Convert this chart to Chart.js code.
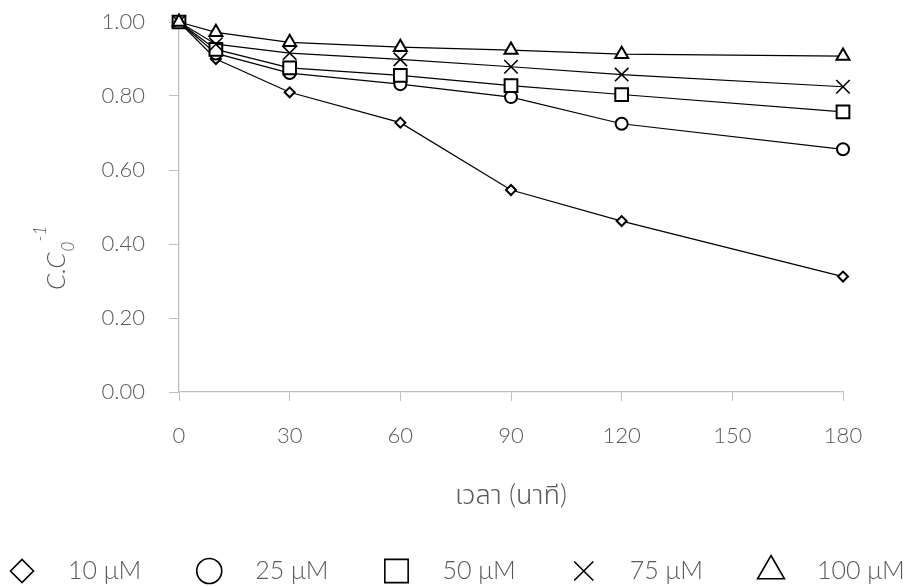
<!DOCTYPE html>
<html>
<head>
<meta charset="utf-8">
<script src="https://cdn.jsdelivr.net/npm/chart.js@4/dist/chart.umd.min.js"></script>
<style>
  html, body { margin: 0; padding: 0; background: #ffffff; }
  #wrap { width: 905px; height: 586px; }
</style>
</head>
<body>
<div id="wrap"><canvas id="decayChart" width="905" height="586"></canvas></div>
<script>
// time points (minutes)
const times = [0, 10, 30, 60, 90, 120, 180];

// normalised concentration C/C0 for each starting concentration
const conc10 = [1.00, 0.900, 0.810, 0.728, 0.546, 0.462, 0.312];
const conc25 = [1.00, 0.915, 0.862, 0.832, 0.797, 0.725, 0.656];
const conc50 = [1.00, 0.926, 0.876, 0.856, 0.828, 0.804, 0.757];
const conc75 = [1.00, 0.940, 0.916, 0.899, 0.879, 0.858, 0.825];
const conc100 = [1.00, 0.972, 0.945, 0.932, 0.924, 0.913, 0.908];

const seriesLabels = ['10 μM', '25 μM', '50 μM', '75 μM', '100 μM'];
const seriesStyles = ['rectRot', 'circle', 'rect', 'crossRot', 'triangle'];
const pointSizes = [5, 6, 9, 9.5, 7.5];
const legendSizes = [11.5, 12.5, 16.5, 13.5, 15.5];

const textFont = 'Lato, "Open Sans", "Noto Sans Thai", "Noto Sans", sans-serif';
const grey = '#595959';
const axisGrey = '#bfbfbf';

function makeDataset(i, values) {
    return {
        label: seriesLabels[i],
        data: times.map((t, j) => ({ x: t, y: values[j] })),
        borderColor: '#000000',
        borderWidth: 1.2,
        pointStyle: seriesStyles[i],
        pointRadius: pointSizes[i],
        pointBorderWidth: seriesStyles[i] === 'crossRot' ? 1.6 : 2,
        pointBorderColor: '#000000',
        pointBackgroundColor: '#ffffff',
        tension: 0,
        clip: false,
        order: 5 - i
    };
}

// rotated y axis title with subscript / superscript
const yTitlePlugin = {
    id: 'yTitle',
    afterDraw(chart) {
        const ctx = chart.ctx;
        const area = chart.chartArea;
        ctx.save();
        ctx.translate(area.left - 114, area.top + 268);
        ctx.rotate(-Math.PI / 2);
        ctx.fillStyle = grey;
        ctx.textBaseline = 'alphabetic';
        ctx.textAlign = 'left';
        ctx.font = 'italic 300 26px ' + textFont;
        ctx.fillText('C.C', 0, 0);
        const w = ctx.measureText('C.C').width;
        ctx.font = 'italic 300 17px ' + textFont;
        ctx.fillText('0', w + 1, 9);
        const w0 = ctx.measureText('0').width;
        ctx.fillText('-1', w + w0 + 1, -19);
        ctx.restore();
    }
};

// legend row along the bottom edge
const bottomLegendPlugin = {
    id: 'bottomLegend',
    afterDraw(chart) {
        const ctx = chart.ctx;
        const y = chart.height - 15;
        const start = 22;
        const step = (chart.width - 156) / 4;
        ctx.save();
        seriesLabels.forEach((label, i) => {
            const x = start + i * step;
            ctx.fillStyle = '#ffffff';
            ctx.strokeStyle = '#000000';
            ctx.lineWidth = 1.6;
            Chart.helpers.drawPoint(ctx, {
                pointStyle: seriesStyles[i],
                radius: legendSizes[i],
                rotation: 0,
                borderWidth: 1.6
            }, x, y);
            ctx.fillStyle = grey;
            ctx.font = '300 25px ' + textFont;
            ctx.textAlign = 'left';
            ctx.textBaseline = 'middle';
            ctx.fillText(label, x + 46, y);
        });
        ctx.restore();
    }
};

const ctx = document.getElementById('decayChart').getContext('2d');
const decayChart = new Chart(ctx, {
    type: 'line',
    data: {
        datasets: [
            makeDataset(0, conc10),
            makeDataset(1, conc25),
            makeDataset(2, conc50),
            makeDataset(3, conc75),
            makeDataset(4, conc100)
        ]
    },
    options: {
        responsive: false,
        animation: false,
        layout: { autoPadding: false, padding: { top: 22, right: 62, bottom: 60, left: 0 } },
        plugins: {
            legend: { display: false },
            tooltip: { enabled: false }
        },
        scales: {
            x: {
                type: 'linear',
                min: 0,
                max: 180,
                ticks: {
                    stepSize: 30,
                    padding: 22,
                    color: grey,
                    font: { family: textFont, size: 22, weight: 300 }
                },
                grid: { drawOnChartArea: false, drawTicks: true, tickLength: 9, color: axisGrey },
                border: { color: axisGrey, width: 1.3 },
                title: {
                    display: true,
                    text: 'เวลา (นาที)',
                    color: grey,
                    padding: { top: 4, bottom: 15 },
                    font: { family: textFont, size: 27, weight: 300 }
                },
                afterFit(scale) { scale.height = 134; }
            },
            y: {
                min: 0,
                max: 1,
                ticks: {
                    stepSize: 0.2,
                    padding: 24,
                    color: grey,
                    font: { family: textFont, size: 22, weight: 300 },
                    callback: (v) => v.toFixed(2)
                },
                grid: { drawOnChartArea: false, drawTicks: true, tickLength: 10, color: axisGrey },
                border: { color: axisGrey, width: 1.3 },
                afterFit(scale) {
                    // tick padding would otherwise also push the plot down from the top
                    scale.width = 179;
                    scale.paddingTop = 0;
                    scale.paddingBottom = 0;
                }
            }
        }
    },
    plugins: [yTitlePlugin, bottomLegendPlugin]
});
</script>
</body>
</html>
